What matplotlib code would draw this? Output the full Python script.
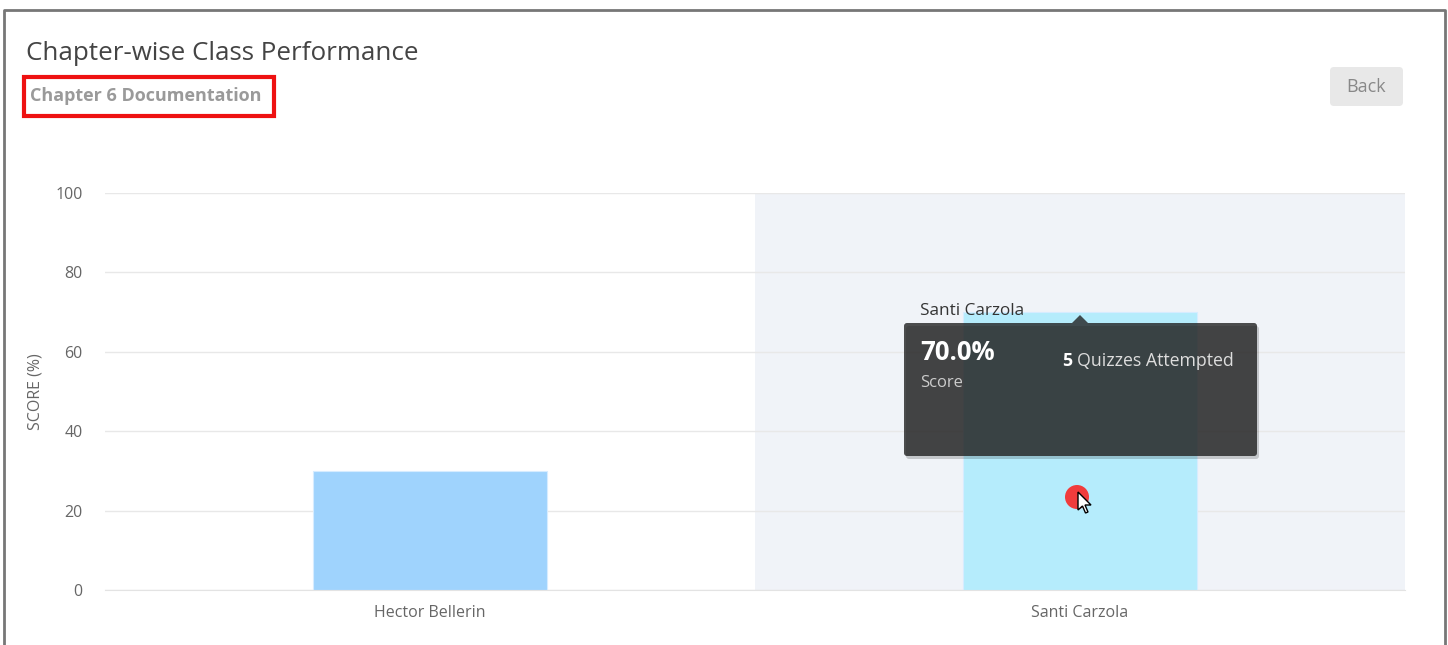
import matplotlib.pyplot as plt
from matplotlib.patches import Rectangle, FancyBboxPatch, Circle, Polygon

students = ['Hector Bellerin', 'Santi Carzola']
scores = [30, 70]
quizzes_attempted = [None, 5]
bar_colors = ['#9fd3fd', '#b5ecfc']
y_ticks = [0, 20, 40, 60, 80, 100]
hovered = 1

W, H = 1448, 645
plt.rcParams['font.family'] = ['Open Sans', 'DejaVu Sans']

fig = plt.figure(figsize=(W / 100, H / 100), dpi=100)
fig.patch.set_facecolor('white')

# main chart area (pixel box 105..1405 x 193..590)
ax = fig.add_axes([105 / W, 1 - 590 / H, 1300 / W, 397 / H])
x = list(range(len(students)))
ax.axvspan(hovered - 0.5, hovered + 0.5, color='#f0f3f8', zorder=0.2, lw=0)
ax.bar(x, scores, width=0.36, color=bar_colors, edgecolor='#d6ecff',
       linewidth=0.8, zorder=2)
ax.set_xlim(-0.5, len(students) - 0.5)
ax.set_ylim(0, 100)
ax.set_yticks(y_ticks)
ax.set_xticks(x)
ax.set_xticklabels(students)
ax.set_axisbelow(True)
ax.grid(axis='y', color='#e8e8e8', linewidth=1)
for s in ['top', 'right', 'left']:
    ax.spines[s].set_visible(False)
ax.spines['bottom'].set_color('#e3e3e3')
ax.tick_params(axis='y', length=0, pad=16, labelsize=11.5, labelcolor='#666666')
ax.tick_params(axis='x', length=0, pad=11, labelsize=11.5, labelcolor='#666666')
ax.set_ylabel('SCORE (%)', fontsize=11.5, color='#666666')
ax.yaxis.set_label_coords(-62 / 1300, 0.5)
ax.set_facecolor('none')

# overlay in pixel coordinates for page decoration and tooltip
ov = fig.add_axes([0, 0, 1, 1], zorder=5)
ov.set_xlim(0, W)
ov.set_ylim(H, 0)
ov.axis('off')
ov.patch.set_alpha(0)

# page frame
ov.plot([4, 4, 1445, 1445], [H + 5, 10, 10, H + 5], color='#777777', lw=2)

ov.text(26, 60, 'Chapter-wise Class Performance', fontsize=18.7, color='#444444')
ov.text(30, 101, 'Chapter 6 Documentation', fontsize=13, color='#9a9a9a',
        fontweight='bold')
ov.add_patch(Rectangle((24, 77), 250, 39, fill=False, edgecolor='#ee1111', lw=3))

ov.add_patch(FancyBboxPatch((1330, 67), 73, 39,
                            boxstyle='round,pad=0,rounding_size=4',
                            facecolor='#e8e8e8', edgecolor='none'))
ov.text(1366.5, 87, 'Back', fontsize=13, color='#888888', ha='center', va='center')

# tooltip
ov.text(920, 315, students[hovered], fontsize=12.3, color='#333333')
ov.add_patch(FancyBboxPatch((906, 326), 353, 133,
                            boxstyle='round,pad=0,rounding_size=3',
                            facecolor='#000000', alpha=0.18, edgecolor='none'))
ov.add_patch(FancyBboxPatch((904, 323), 353, 133,
                            boxstyle='round,pad=0,rounding_size=3',
                            facecolor='#222222', alpha=0.8, edgecolor='none'))
ov.add_patch(Polygon([(1072, 323), (1080, 315), (1088, 323)], closed=True,
                     facecolor='#222222', alpha=0.8, edgecolor='none'))
ov.text(920, 360, '%.1f%%' % scores[hovered], fontsize=18.5, color='white',
        fontweight='bold')
ov.text(920, 387, 'Score', fontsize=12, color='#cccccc')
ov.text(1062, 366, str(quizzes_attempted[hovered]), fontsize=12.8, color='white',
        fontweight='bold')
ov.text(1077, 366, 'Quizzes Attempted', fontsize=12.8, color='#dddddd')

# hover marker and mouse pointer
ov.add_patch(Circle((1077, 497), 12, facecolor='#f03c3c', edgecolor='none'))
cx, cy = 1078, 492
arrow = [(0, 0), (0, 18), (4.5, 14), (7.5, 21), (10, 20), (7, 13), (13, 13)]
ov.add_patch(Polygon([(cx + dx, cy + dy) for dx, dy in arrow], closed=True,
                     facecolor='white', edgecolor='black', lw=1))

fig.savefig('out.png', dpi=100)
